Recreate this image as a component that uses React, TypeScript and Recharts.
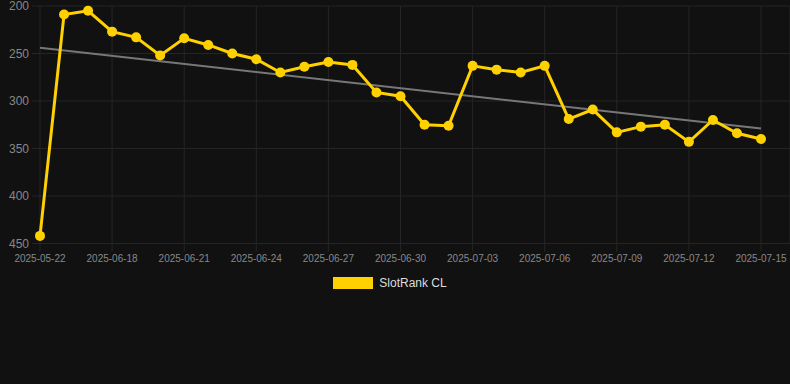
import React from 'react';
import { LineChart, Line, XAxis, YAxis, CartesianGrid, Legend } from 'recharts';

const dates = [
  '2025-05-22', '2025-06-16', '2025-06-17', '2025-06-18', '2025-06-19', '2025-06-20',
  '2025-06-21', '2025-06-22', '2025-06-23', '2025-06-24', '2025-06-25', '2025-06-26',
  '2025-06-27', '2025-06-28', '2025-06-29', '2025-06-30', '2025-07-01', '2025-07-02',
  '2025-07-03', '2025-07-04', '2025-07-05', '2025-07-06', '2025-07-07', '2025-07-08',
  '2025-07-09', '2025-07-10', '2025-07-11', '2025-07-12', '2025-07-13', '2025-07-14',
  '2025-07-15',
];

const ranks = [
  442, 209, 205, 227, 233, 252, 234, 241, 250, 256, 270, 264, 259, 262, 291, 295,
  325, 326, 263, 267, 270, 263, 319, 309, 333, 327, 325, 343, 320, 334, 340,
];

const trendStart = 244;
const trendEnd = 329;

const yTicks = [200, 250, 300, 350, 400, 450];

const data = dates.map((d, i) => ({
  date: d,
  rank: ranks[i],
  trend: i === 0 ? trendStart : i === dates.length - 1 ? trendEnd : null,
}));

const GRID = '#252525';
const GOLD = '#FFD100';

const LegendContent = () => (
  <div style={{ position: 'relative', top: -3, display: 'flex', justifyContent: 'center', alignItems: 'center', height: 24, paddingRight: 10, fontFamily: 'Arial, "Liberation Sans", sans-serif' }}>
    <div style={{ width: 40, height: 12, background: GOLD, marginRight: 6 }} />
    <span style={{ color: '#dddddd', fontSize: 12 }}>SlotRank CL</span>
  </div>
);

export default function App() {
  return (
    <div style={{ position: 'absolute', left: 0, top: 0, width: 790, height: 384, background: '#111111' }}>
      <LineChart
        width={790}
        height={384}
        data={data}
        margin={{ top: 6, right: 0, left: 0, bottom: 86.5 }}
        style={{ fontFamily: 'Arial, "Liberation Sans", sans-serif' }}
      >
        <CartesianGrid stroke={GRID} strokeWidth={1} />
        <XAxis
          dataKey="date"
          interval={2}
          padding={{ left: 0, right: 29 }}
          axisLine={false}
          tickLine={{ stroke: GRID }}
          tickSize={8}
          tickMargin={3}
          height={30}
          tick={{ fill: '#888888', fontSize: 10 }}
        />
        <YAxis
          reversed
          domain={[200, 450]}
          ticks={yTicks}
          interval={0}
          width={40}
          axisLine={false}
          tickLine={{ stroke: GRID }}
          tickSize={8}
          tickMargin={3}
          tick={{ fill: '#888888', fontSize: 12 }}
        />
        <Legend verticalAlign="bottom" content={() => <LegendContent />} />
        <Line
          dataKey="trend"
          stroke="#777777"
          strokeWidth={2}
          dot={false}
          connectNulls
          isAnimationActive={false}
          legendType="none"
        />
        <Line
          dataKey="rank"
          stroke={GOLD}
          strokeWidth={3}
          dot={{ r: 5, fill: GOLD, stroke: GOLD, strokeWidth: 0 }}
          activeDot={false}
          isAnimationActive={false}
        />
      </LineChart>
    </div>
  );
}
